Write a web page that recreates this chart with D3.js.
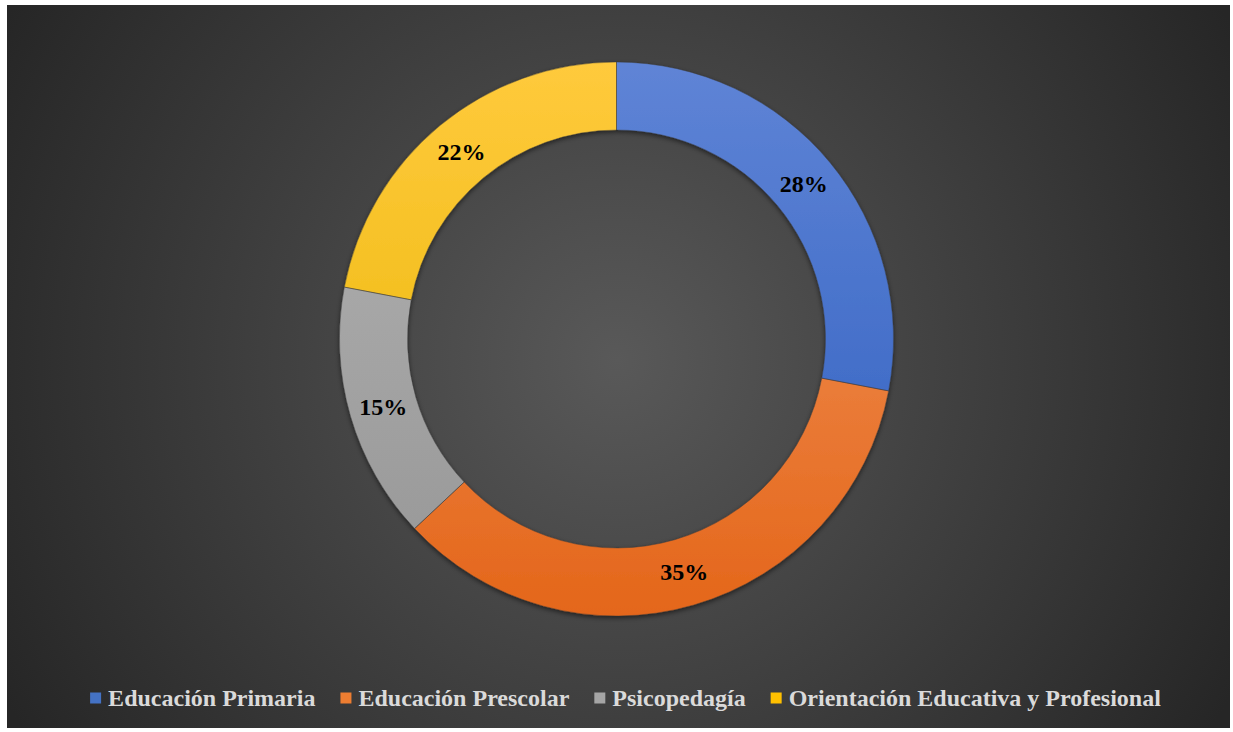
<!DOCTYPE html>
<html>
<head>
<meta charset="utf-8">
<script src="https://cdn.jsdelivr.net/npm/d3@7/dist/d3.min.js"></script>
<style>
  html, body { margin: 0; padding: 0; background: #ffffff; }
  svg { display: block; }
</style>
</head>
<body>
<svg id="chart" width="1233" height="732"></svg>
<script>
// Enrolment share by programme
const categories = ["Educación Primaria", "Educación Prescolar", "Psicopedagía", "Orientación Educativa y Profesional"];
const values = [28, 35, 15, 22];
const valueLabels = ["28%", "35%", "15%", "22%"];
// top / bottom shades of each slice fill
const colorsTop = ["#5f84d6", "#f39a63", "#b3b3b3", "#ffca3c"];
const colorsBottom = ["#2e5ebf", "#e4661a", "#969696", "#e6b300"];
const legendColors = ["#4472c4", "#ed7d31", "#a5a5a5", "#ffc000"];

const svg = d3.select("#chart");
const frame = { x: 7, y: 5, w: 1223, h: 723 };
const serif = "'Liberation Serif', 'Times New Roman', serif";

const defs = svg.append("defs");

const bg = defs.append("radialGradient")
  .attr("id", "bg")
  .attr("gradientUnits", "userSpaceOnUse")
  .attr("cx", 617).attr("cy", 360).attr("r", 700);
bg.append("stop").attr("offset", "0%").attr("stop-color", "#595959");
bg.append("stop").attr("offset", "100%").attr("stop-color", "#262626");

svg.append("rect")
  .attr("x", frame.x).attr("y", frame.y)
  .attr("width", frame.w).attr("height", frame.h)
  .attr("fill", "url(#bg)");

const cx = 616.5, cy = 339;
const outerR = 277, innerR = 209;

// vertical shading for each slice, expressed in the ring's own coordinates
categories.forEach((c, i) => {
  const g = defs.append("linearGradient")
    .attr("id", "slice" + i)
    .attr("gradientUnits", "userSpaceOnUse")
    .attr("x1", 0).attr("y1", -outerR)
    .attr("x2", 0).attr("y2", outerR);
  g.append("stop").attr("offset", "0%").attr("stop-color", colorsTop[i]);
  g.append("stop").attr("offset", "100%").attr("stop-color", colorsBottom[i]);
});

const shadow = defs.append("filter")
  .attr("id", "shadow")
  .attr("x", "-20%").attr("y", "-20%").attr("width", "140%").attr("height", "140%");
shadow.append("feDropShadow")
  .attr("dx", 0).attr("dy", 2).attr("stdDeviation", 2.5)
  .attr("flood-color", "#000").attr("flood-opacity", 0.55);

const pie = d3.pie().value(d => d).sort(null);
const arcs = pie(values);
const arc = d3.arc().innerRadius(innerR).outerRadius(outerR);

const ring = svg.append("g")
  .attr("transform", `translate(${cx},${cy})`);

ring.append("g")
  .attr("filter", "url(#shadow)")
  .selectAll("path")
  .data(arcs)
  .join("path")
  .attr("d", arc)
  .attr("fill", (d, i) => `url(#slice${i})`);

// thin separators between slices
ring.append("g")
  .selectAll("path")
  .data(arcs)
  .join("path")
  .attr("d", arc)
  .attr("fill", "none")
  .attr("stroke", "#3a3a3a")
  .attr("stroke-opacity", 0.5)
  .attr("stroke-width", 0.8);

ring.append("g")
  .selectAll("text")
  .data(arcs)
  .join("text")
  .attr("transform", d => `translate(${arc.centroid(d)})`)
  .attr("text-anchor", "middle")
  .attr("dominant-baseline", "central")
  .attr("font-family", serif)
  .attr("font-weight", "bold")
  .attr("font-size", 24)
  .attr("fill", "#000")
  .text((d, i) => valueLabels[i]);

// legend
const legend = svg.append("g").attr("transform", "translate(0,698)");
const items = legend.selectAll("g")
  .data(categories)
  .join("g");

items.append("rect")
  .attr("y", -5.5)
  .attr("width", 11).attr("height", 11)
  .attr("fill", (d, i) => legendColors[i]);

items.append("text")
  .attr("x", 18)
  .attr("dy", "0.35em")
  .attr("font-family", serif)
  .attr("font-weight", "bold")
  .attr("font-size", 24)
  .attr("fill", "#dadada")
  .text(d => d);

// lay out legend entries in a centred row
const gap = 25;
const widths = items.nodes().map(n => 18 + d3.select(n).select("text").node().getComputedTextLength());
const total = d3.sum(widths) + gap * (widths.length - 1);
let xPos = (frame.x + frame.w / 2) + 7 - total / 2;
items.each(function (d, i) {
  d3.select(this).attr("transform", `translate(${xPos},0)`);
  xPos += widths[i] + gap;
});
</script>
</body>
</html>
